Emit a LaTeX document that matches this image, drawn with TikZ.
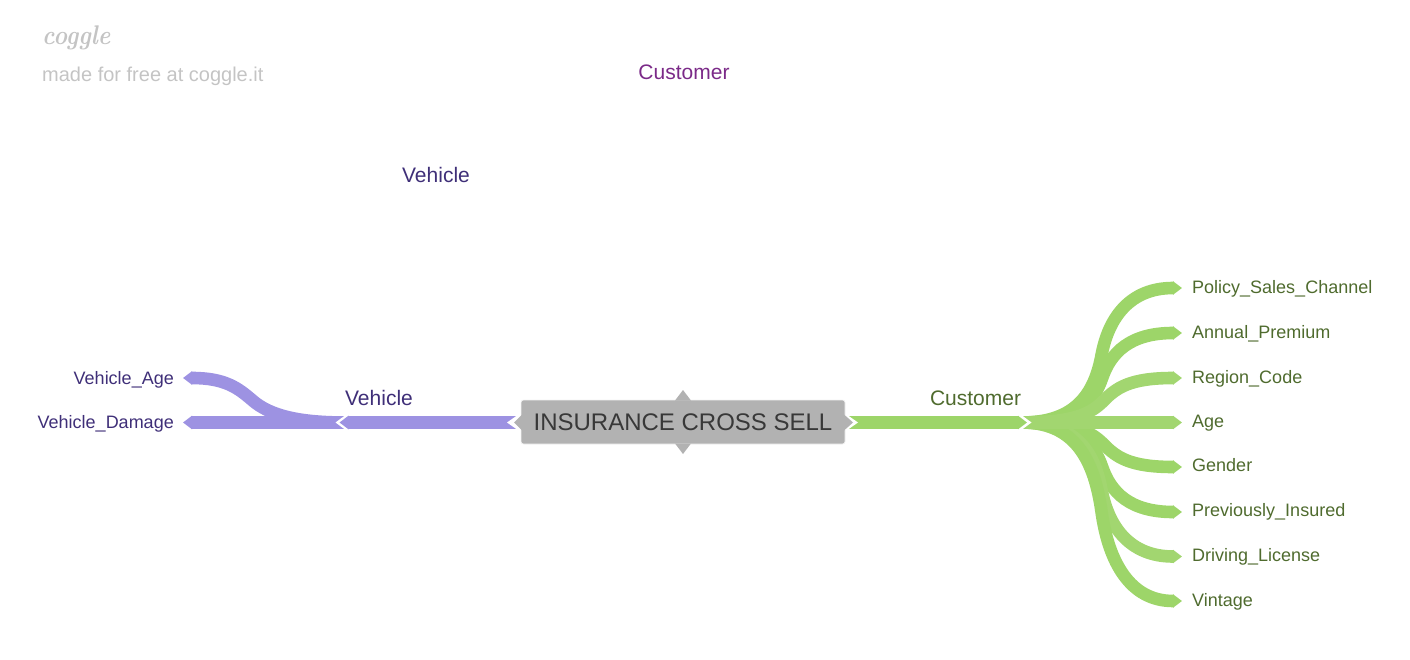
\documentclass[tikz,border=0pt]{standalone}
\usepackage{fontspec}
\setsansfont{Liberation Sans}
\usetikzlibrary{arrows.meta,calc}
\definecolor{gbar}{HTML}{9DD569}
\definecolor{gbarb}{HTML}{A2D670}
\definecolor{pbar}{HTML}{9D92E2}
\definecolor{gtext}{HTML}{4F6B2E}
\definecolor{ptext}{HTML}{3F2F78}
\definecolor{mtext}{HTML}{7B2A88}
\definecolor{rootc}{HTML}{B2B2B2}
\definecolor{logoc}{HTML}{C4C4C4}
\newcommand{\fpx}[1]{\fontsize{#1pt}{#1pt}\selectfont}
\tikzset{
  x=1pt,y=-1pt,
  lab/.style={inner sep=0pt,font=\sffamily\fpx{18}},
  glab/.style={lab,text=gtext,anchor=base west},
  plab/.style={lab,text=ptext,anchor=base east},
  biglab/.style={inner sep=0pt,font=\sffamily\fpx{21},anchor=base},
  limb/.style={line width=12.6pt,-{Triangle[length=9pt,width=13pt]}},
  glimb/.style={limb,draw=gbar},
  plimb/.style={limb,draw=pbar},
  rootbox/.style={fill=rootc,draw=white!85!rootc,line width=.6pt,rounded corners=2.5pt,minimum width=324pt,minimum height=44pt,inner sep=0pt,text=black!78,font=\sffamily\fpx{24}},
}
\begin{document}
\begin{tikzpicture}
\useasboundingbox (0,0) rectangle (1410,660);
% hubs and end points
\coordinate (chub) at (1022,422.5);
\coordinate (vhub) at (345,422.5);
\coordinate (t1) at (1182,288);
\coordinate (t2) at (1182,333);
\coordinate (t3) at (1182,378);
\coordinate (t4) at (1182,422.5);
\coordinate (t5) at (1182,467);
\coordinate (t6) at (1182,512);
\coordinate (t7) at (1182,556.5);
\coordinate (t8) at (1182,601);
\coordinate (v1) at (183,378);
\coordinate (v2) at (183,422.5);
% customer branches
\foreach \t/\h/\c in {t1/134.5/gbar,t2/89.5/gbar,t3/44.5/gbarb,t5/-44.5/gbar,t6/-89.5/gbar,t7/-134/gbarb,t8/-178.5/gbar}{
  \pgfmathsetmacro{\ha}{-0.22*\h}
  \pgfmathsetmacro{\hb}{-0.5*\h}
  \pgfmathsetmacro{\hc}{-0.78*\h}
  \pgfmathsetmacro{\hd}{-1*\h}
  \pgfmathsetmacro{\dt}{max(7,16-abs(\h)/12)}
  \pgfmathsetmacro{\xm}{76+\dt/2}
  \pgfmathsetmacro{\xa}{\xm-\dt}
  \pgfmathsetmacro{\xc}{\xm+\dt}
  \draw[glimb,draw=\c] (chub) .. controls ($(chub)+(54,0)$) and ($(chub)+(\xa,\ha)$) .. ($(chub)+(\xm,\hb)$)
     .. controls ($(chub)+(\xc,\hc)$) and ($(chub)+(108,\hd)$) .. ($(chub)+(151,\hd)$) -- (\t);
}
\draw[glimb,draw=gbarb] (chub) -- (t4);
% vehicle branches
\draw[plimb] (vhub) .. controls +(-45,0) and +(18,16) .. (252,400)
   .. controls +(-14,-12) and +(33,0) .. (192,378) -- (v1);
\draw[plimb] (vhub) -- (v2);
% main bars
\fill[white] (1012,416.2) -- (1023,416.2) -- (1031.5,422.5) -- (1023,428.8) -- (1012,428.8) -- cycle;
\fill[white] (355,416.2) -- (344,416.2) -- (335.5,422.5) -- (344,428.8) -- (355,428.8) -- cycle;
\node[rootbox] (root) at (683,422) {INSURANCE CROSS SELL};
\coordinate (ctip) at (1027,422.5);
\coordinate (vtip) at (339.5,422.5);
\draw[glimb] (root.east |- ctip) -- (ctip);
\draw[plimb] (root.west |- vtip) -- (vtip);
% root tips
\fill[white] (845,415.5) -- (848,415.5) -- (858,422.5) -- (848,429.5) -- (845,429.5) -- cycle;
\fill[white] (521,415.5) -- (517,415.5) -- (507,422.5) -- (517,429.5) -- (521,429.5) -- cycle;
\fill[rootc] (844,414.5) -- (853,422.5) -- (844,430.5) -- cycle;
\fill[rootc] (522,414.5) -- (514,422.5) -- (522,430.5) -- cycle;
\fill[rootc] (675,400.5) -- (683,390) -- (691,400.5) -- cycle;
\fill[rootc] (675,443.5) -- (683,454) -- (691,443.5) -- cycle;
% labels
\node[biglab,text=gtext] (clab) at (975.5,405) {Customer};
\node[biglab,text=ptext] (vlab) at (379,405) {Vehicle};
\node[biglab,text=mtext] (ctop) at (684,80) {Customer};
\node[biglab,text=ptext] (vtop) at (436,183) {Vehicle};
\node[glab] (l1) at (1192,293) {Policy\_Sales\_Channel};
\node[glab] (l2) at (1192,338) {Annual\_Premium};
\node[glab] (l3) at (1192,383) {Region\_Code};
\node[glab] (l4) at (1192,427) {Age};
\node[glab] (l5) at (1192,471) {Gender};
\node[glab] (l6) at (1192,516) {Previously\_Insured};
\node[glab] (l7) at (1192,561) {Driving\_License};
\node[glab] (l8) at (1192,606) {Vintage};
\node[plab] (p1) at (174,384) {Vehicle\_Age};
\node[plab] (p2) at (174,428) {Vehicle\_Damage};
% logo
\node[inner sep=0pt,anchor=base west,text=logoc,font=\fpx{27}\itshape\bfseries] (logo) at (42,45) {\scalebox{.87}[1]{coggle}};
\node[inner sep=0pt,anchor=base west,text=logoc,font=\sffamily\fpx{20}] (made) at (42,82) {made for free at coggle.it};
\end{tikzpicture}
\end{document}
